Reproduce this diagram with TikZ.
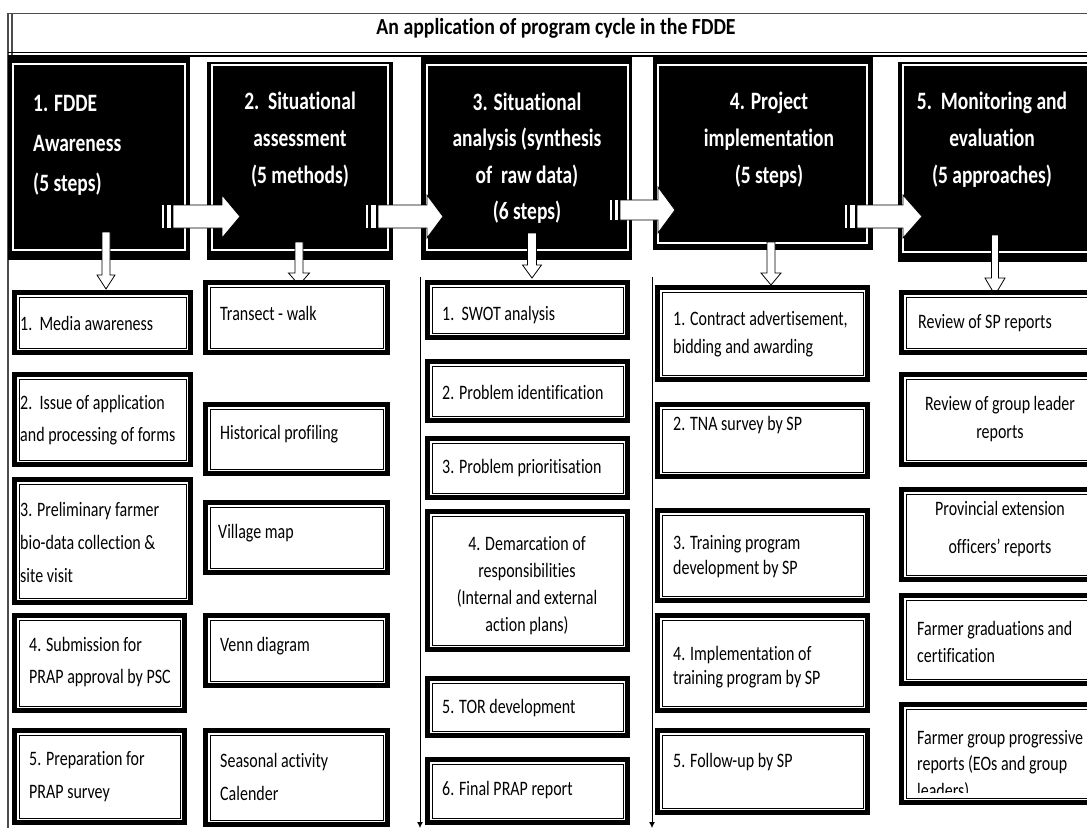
\documentclass[tikz,border=0pt]{standalone}
\usepackage{fontspec}
\setmainfont{Carlito}
\newfontfamily\bodyf[FakeStretch=0.78,Ligatures=NoCommon]{Carlito}
\newfontfamily\titlef[FakeStretch=0.86,Ligatures=NoCommon]{Carlito}
\usetikzlibrary{fit,arrows.meta}

\tikzset{
  headbox/.style={fill=black, inner sep=0pt, outer sep=0pt},
  headline/.style={draw=white, line width=1.5pt},
  stepbox/.style={draw=black, line width=5pt, fill=white, inner sep=0pt, outer sep=0pt,
    path picture={\draw[black, line width=1pt]
      ([xshift=4.5pt,yshift=-4.5pt]path picture bounding box.north west) rectangle
      ([xshift=-4.5pt,yshift=4.5pt]path picture bounding box.south east);}},
  blockarrow/.style={fill=white, draw=black, line width=0.8pt, line join=miter},
  stripe/.style={fill=white},
  flowline/.style={draw=black, line width=0.9pt, -{Latex[length=6pt,width=6pt]}},
  frameline/.style={draw=black!70, line width=1.2pt},
  btext/.style={font=\bodyf\fontsize{20.5}{#1}\selectfont, inner sep=0pt, anchor=west, align=left},
  btext/.default=32,
  ctext/.style={font=\bodyf\fontsize{20.5}{#1}\selectfont, inner sep=0pt, align=center},
  ctext/.default=28,
  htext/.style={font=\bodyf\bfseries\fontsize{25}{#1}\selectfont, text=white, inner sep=0pt, align=center},
  htext/.default=37,
  titletext/.style={font=\titlef\bfseries\fontsize{23}{28}\selectfont, inner sep=0pt},
}

% framed step box: name, x1, y1, x2, y2 (outer edges)
\newcommand\fddebox[5]{\node[stepbox, fit={(#2+2.5,#3+2.5) (#4-2.5,#5-2.5)}] (#1) {};}
% black stage box: name, outer x1 y1 x2 y2, white rule x1 y1 x2 y2
\newcommand\fddehead[9]{\node[headbox, fit={(#2,#3) (#4,#5)}] (#1) {};
  \draw[headline] (#6,#7) rectangle (#8,#9);}
% downward block arrow: cx, ytop, yhead, ytip, half shaft, half head
\newcommand\downblock[6]{\draw[blockarrow] (#1-#5,#2) -- (#1+#5,#2) -- (#1+#5,#3) -- (#1+#6,#3)
  -- (#1,#4) -- (#1-#6,#3) -- (#1-#5,#3) -- cycle;}
% striped right block arrow: xstripe, xbody, xhead, xtip, yc, half body, half head
\newcommand\rightblock[7]{\fill[stripe] (#1,#5-#6) rectangle (#1+2,#5+#6);
  \fill[stripe] (#1+5,#5-#6) rectangle (#2-2,#5+#6);
  \draw[blockarrow] (#2,#5-#6) -- (#3,#5-#6) -- (#3,#5-#7) -- (#4,#5) -- (#3,#5+#7)
  -- (#3,#5+#6) -- (#2,#5+#6) -- cycle;}

\begin{document}
\begin{tikzpicture}[x=1pt,y=-1pt]
\useasboundingbox (0,0) rectangle (1087,828);
\clip (0,0) rectangle (1087,828);
\fill[white] (0,0) rectangle (1087,828);

% title frame
\draw[frameline, line width=0.8pt] (8,13) -- (1087,13);
\draw[frameline] (8,13) -- (8,828);
\draw[frameline] (12,13) -- (12,55);
\draw[black, line width=1.6pt] (8,52.5) -- (1087,52.5);
\draw[black, line width=1.6pt] (8,56) -- (1087,56);
\node[titletext] (title) at (556,28) {An application of program cycle in the FDDE};

% stage boxes
\fddehead{h1}{8}{57}{190}{260}{13}{64}{185}{250}
\fddehead{h2}{207}{62}{393}{260}{212}{65}{388}{250}
\fddehead{h3}{421}{57}{632}{260}{427}{65}{628}{250}
\fddehead{h4}{653}{57}{873}{250}{658}{65}{867}{243}
\fddehead{h5}{898}{62}{1100}{262}{903}{65}{1100}{252}

\node[htext=40, anchor=west, align=left] (ht1) at (33,145) {1. FDDE\\Awareness\\(5 steps)};
\node[htext] (ht2) at (300,140) {2.\ \ Situational\\assessment\\(5 methods)};
\node[htext=36.5] (ht3) at (527,158) {3. Situational\\analysis (synthesis\\of\ \ raw data)\\(6 steps)};
\node[htext] (ht4) at (769,140) {4. Project\\implementation\\(5 steps)};
\node[htext] (ht5) at (992,140) {5.\ \ Monitoring and\\evaluation\\(5 approaches)};

% arrows between stages
\rightblock{162}{173}{222}{240}{216.5}{11.5}{21.5}
\rightblock{366}{378}{427}{443}{216.5}{11.5}{21.5}
\rightblock{610}{620}{658}{675}{210}{10}{23}
\rightblock{845}{857}{903}{922}{216.5}{11.5}{21.5}

% arrows from stages to their steps
\downblock{106}{232}{275}{289}{4}{9}
\downblock{299}{242}{273}{285}{4}{10.5}
\downblock{532}{233}{265}{278}{4.5}{9.5}
\downblock{771}{242}{273}{285}{4}{10}
\downblock{995}{235}{278}{295}{3.5}{10}

% column flow lines
\coordinate (l3top) at (420,277);
\coordinate (l3end) at (420,828);
\coordinate (l4top) at (652,277);
\coordinate (l4end) at (652,828);
\draw[flowline] (l3top) -- (l3end);
\draw[flowline] (l4top) -- (l4end);

% column 1
\fddebox{b11}{12}{290}{193}{355}
\fddebox{b12}{12}{372}{193}{467}
\fddebox{b13}{12}{477}{193}{605}
\fddebox{b14}{12}{613}{187}{713}
\fddebox{b15}{12}{728}{187}{825}
\node[btext] (t11) at (20,323) {1.\ \ Media awareness};
\node[btext] (t12) at (20,420) {2.\ \ Issue of application\\and processing of forms};
\node[btext=33] (t13) at (20,542) {3. Preliminary farmer\\bio-data collection \&\\site visit};
\node[btext] (t14) at (29,662) {4. Submission for\\PRAP approval by PSC};
\node[btext=33] (t15) at (29,776.5) {5. Preparation for\\PRAP survey};

% column 2
\fddebox{b21}{203}{280}{390}{355}
\fddebox{b22}{203}{402}{390}{476}
\fddebox{b23}{203}{500}{390}{575}
\fddebox{b24}{203}{613}{390}{688}
\fddebox{b25}{203}{728}{390}{827}
\node[btext] (t21) at (220,313) {Transect - walk};
\node[btext] (t22) at (220,434) {Historical profiling};
\node[btext] (t23) at (218,533) {Village map};
\node[btext] (t24) at (220,646) {Venn diagram};
\node[btext=33] (t25) at (220,776.5) {Seasonal activity\\Calender};

% column 3
\fddebox{b31}{425}{280}{630}{340}
\fddebox{b32}{425}{359}{630}{423}
\fddebox{b33}{425}{436}{630}{500}
\fddebox{b34}{425}{509}{630}{652}
\fddebox{b35}{425}{676}{630}{738}
\fddebox{b36}{425}{757}{630}{825}
\node[btext] (t31) at (442,315) {1.\ \ SWOT analysis};
\node[btext] (t32) at (442,392) {2. Problem identification};
\node[btext] (t33) at (442,468) {3. Problem prioritisation};
\node[ctext=27] (t34) at (527,586) {4. Demarcation of\\responsibilities\\(Internal and external\\action plans)};
\node[btext] (t35) at (442,708) {5. TOR development};
\node[btext] (t36) at (442,790) {6. Final PRAP report};

% column 4
\fddebox{b41}{655}{285}{870}{382}
\fddebox{b42}{655}{402}{870}{479}
\fddebox{b43}{655}{508}{870}{603}
\fddebox{b44}{655}{613}{870}{713}
\fddebox{b45}{655}{728}{870}{815}
\node[btext=28] (t41) at (673,334) {1. Contract advertisement,\\bidding and awarding};
\node[btext] (t42) at (673,425) {2. TNA survey by SP};
\node[btext=25] (t43) at (673,557) {3. Training program\\development by SP};
\node[btext=24] (t44) at (673,667) {4. Implementation of\\training program by SP};
\node[btext] (t45) at (673,762) {5. Follow-up by SP};

% column 5
\fddebox{b51}{899}{290}{1100}{355}
\fddebox{b52}{899}{372}{1100}{467}
\fddebox{b53}{899}{487}{1100}{582}
\fddebox{b54}{899}{593}{1100}{686}
\fddebox{b55}{899}{702}{1100}{805}
\node[btext] (t51) at (918,323) {Review of SP reports};
\node[ctext=28] (t52) at (1000,419) {Review of group leader\\reports};
\node[ctext=38] (t53) at (1000,529) {Provincial extension\\officers’ reports};
\node[btext=27] (t54) at (917,641.5) {Farmer graduations and\\certification};
\begin{scope}
  \clip (905,708) rectangle (1087,792);
  \node[btext=26.5] (t55) at (917,765) {Farmer group progressive\\reports (EOs and group\\leaders)};
\end{scope}
\end{tikzpicture}
\end{document}
